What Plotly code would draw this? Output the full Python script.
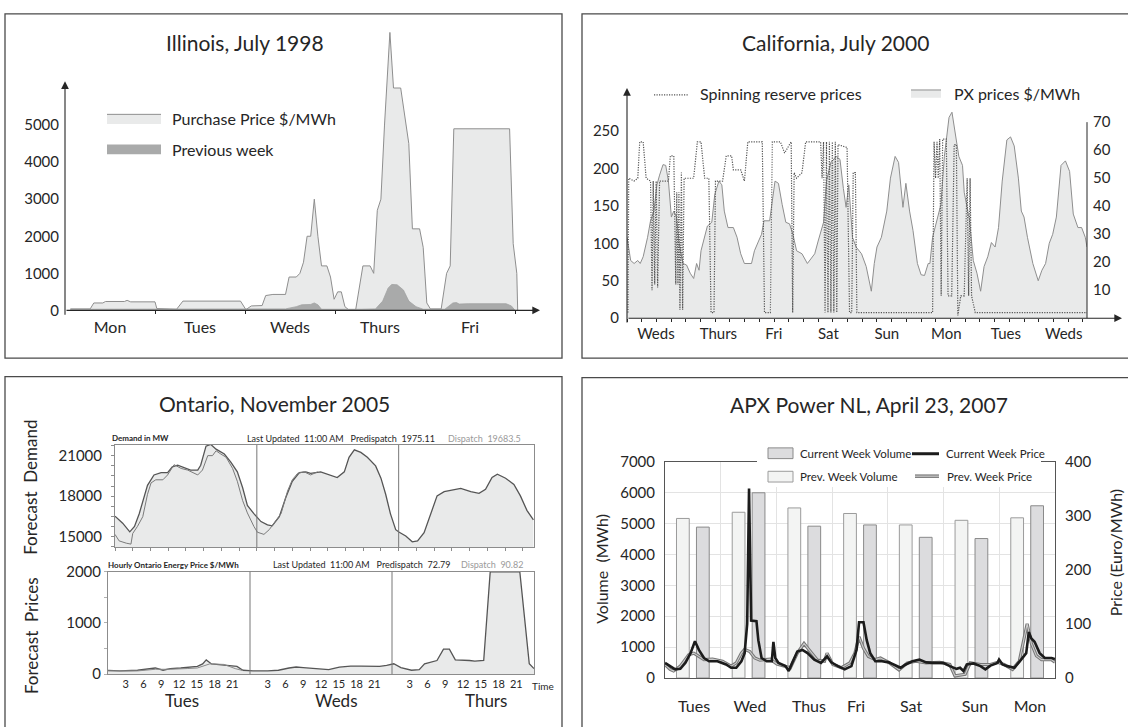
import plotly.graph_objects as go

W, H = 1128, 727
def PX(v): return v / W
def PY(v): return 1 - v / H

FONT = "Lato, 'Noto Sans', sans-serif"
INK = "#262626"
FILL = "#e9eaea"
EDGE = "#8e8e8e"
BOX = "#4a4a4a"

# ---------------- Illinois, July 1998 (x in days from Monday 0:00) ----------------
ill_days = ["Mon", "Tues", "Weds", "Thurs", "Fri"]
ill_yticks = [0, 1000, 2000, 3000, 4000, 5000]
ill_x = [0.06, 0.28, 0.32, 0.42, 0.45, 0.66, 0.69, 0.73, 1.00, 1.02,
         1.24, 1.31, 1.95, 2.01, 2.07, 2.19, 2.23, 2.31, 2.45, 2.49,
         2.57, 2.61, 2.65, 2.69, 2.73, 2.77, 2.81, 2.85, 2.91, 2.95,
         2.99, 3.03, 3.07, 3.11, 3.15, 3.23, 3.31, 3.39, 3.43, 3.47,
         3.51, 3.55, 3.61, 3.65, 3.73, 3.82, 3.86, 3.94, 3.98, 4.02,
         4.06, 4.18, 4.24, 4.28, 4.32, 4.94, 4.98, 5.02, 5.03]
ill_price = [40, 40, 200, 200, 240, 240, 270, 230, 230, 50,
             30, 250, 250, 20, 120, 130, 400, 430, 430, 900,
             900, 1000, 1300, 2000, 2000, 3000, 2000, 1200, 1200, 900,
             300, 500, 500, 100, 20, 20, 1200, 1200, 1000, 2700,
             3000, 5000, 7500, 6000, 6000, 4500, 2200, 2200, 1700, 200,
             40, 40, 1000, 1200, 4900, 4900, 1800, 1000, 0]
ill_prev_x = [0.06, 2.01, 2.45, 2.57, 2.63, 2.73, 2.77, 2.81, 2.85, 3.29,
              3.45, 3.53, 3.59, 3.63, 3.69, 3.76, 3.82, 3.90, 3.98, 4.22,
              4.31, 4.35, 4.38, 4.48, 4.90, 4.96, 5.00]
ill_prev = [30, 30, 40, 100, 150, 160, 200, 150, 30, 30,
            40, 250, 600, 700, 690, 550, 250, 100, 30, 30,
            200, 210, 170, 180, 180, 120, 0]

# ---------------- California, July 2000 (x in hours) ----------------
cal_days = ["Weds", "Thurs", "Fri", "Sat", "Sun", "Mon", "Tues", "Weds"]
cal_day_pos = [11.8, 37.3, 59.9, 82.2, 106.0, 130.3, 154.6, 178.2]
cal_left_ticks = [0, 50, 100, 150, 200, 250]
cal_right_ticks = [10, 20, 30, 40, 50, 60, 70]
cal_px_h = [0.0, 1.5, 2.9, 4.4, 5.4, 6.6, 8.4, 9.6, 11.0, 12.2,
            13.3, 14.7, 15.8, 16.9, 18.1, 19.1, 20.2, 21.3, 22.8, 24.3,
            25.8, 27.2, 28.4, 29.4, 30.2, 31.7, 32.8, 34.6, 35.8, 37.5,
            38.7, 39.7, 41.2, 43.4, 44.9, 46.4, 47.9, 50.8, 52.0, 53.7,
            54.9, 55.9, 58.2, 60.4, 61.8, 63.3, 64.8, 66.3, 67.7, 69.2,
            71.4, 73.6, 75.1, 76.6, 78.0, 80.2, 81.4, 83.2, 85.4, 86.9,
            88.3, 89.4, 90.5, 92.0, 93.5, 95.7, 97.6, 99.7, 100.9, 102.0,
            103.8, 106.0, 107.5, 109.4, 110.8, 112.6, 113.8, 115.3, 116.7, 118.5,
            120.0, 121.4, 122.9, 123.6, 124.7, 126.2, 128.1, 129.5, 131.4, 132.6,
            134.0, 135.4, 136.9, 137.6, 139.8, 141.3, 142.8, 144.3, 145.7, 147.2,
            148.7, 150.2, 151.6, 153.1, 155.0, 156.5, 158.0, 159.7, 160.9, 162.0,
            163.4, 165.6, 167.8, 169.3, 170.8, 172.3, 173.7, 175.2, 177.1, 178.9,
            180.6, 182.1, 184.0, 185.5, 187.0, 187.7]
cal_px = [108, 77, 73, 77, 73, 82, 108, 130, 143, 178,
          191, 205, 204, 183, 135, 143, 135, 100, 73, 71,
          60, 53, 73, 64, 90, 108, 123, 128, 165, 183,
          178, 143, 121, 121, 108, 86, 73, 73, 90, 103,
          112, 130, 130, 183, 180, 152, 128, 126, 112, 90,
          86, 73, 80, 86, 103, 128, 183, 208, 216, 212,
          173, 148, 178, 108, 95, 86, 69, 36, 73, 95,
          108, 143, 187, 216, 208, 148, 180, 143, 117, 73,
          58, 57, 73, 73, 108, 126, 152, 216, 268, 275,
          246, 216, 204, 168, 130, 77, 60, 36, 69, 82,
          101, 95, 121, 183, 238, 242, 230, 187, 143, 135,
          108, 73, 50, 64, 73, 100, 112, 135, 204, 210,
          196, 139, 121, 121, 108, 95]
cal_sr_h = [0.4, 0.7, 2.9, 4.4, 5.2, 6.6, 7.8, 9.6, 10.2, 10.7,
            11.3, 11.9, 12.5, 13.3, 16.9, 17.7, 19.1, 19.9, 20.3, 20.8,
            21.2, 21.6, 22.2, 22.7, 23.3, 27.2, 28.7, 30.2, 31.7, 33.4,
            34.3, 35.5, 36.1, 39.0, 40.5, 42.7, 43.4, 46.4, 47.9, 49.3,
            55.2, 56.1, 58.5, 59.3, 62.6, 64.3, 66.3, 67.0, 67.6, 68.2,
            69.2, 71.4, 72.9, 79.0, 79.6, 80.2, 80.8, 81.4, 82.0, 82.6,
            83.2, 83.8, 84.4, 85.0, 85.6, 86.1, 89.8, 90.8, 91.7, 92.3,
            93.2, 93.8, 124.7, 125.3, 125.9, 126.5, 127.0, 127.6, 128.2, 128.8,
            130.3, 131.0, 132.5, 133.5, 134.4, 135.0, 136.2, 137.6, 138.8, 139.4,
            140.0, 140.6, 142.1, 187.7]
cal_sr = [2, 50, 49, 50, 63, 63, 50, 49, 10, 49,
          12, 49, 11, 49, 49, 58, 58, 12, 45, 12,
          45, 3, 52, 3, 50, 50, 63, 63, 50, 50,
          2, 2, 49, 49, 58, 58, 53, 53, 49, 63,
          63, 2, 2, 63, 63, 59, 62, 63, 2, 52,
          50, 52, 63, 63, 50, 63, 2, 63, 2, 63,
          2, 63, 2, 63, 2, 62, 61, 2, 2, 52,
          52, 2, 2, 63, 50, 63, 50, 64, 8, 64,
          64, 8, 8, 62, 62, 1, 8, 8, 50, 8,
          50, 8, 2, 2]

# ---------------- Ontario, November 2005 (x in hours from Tuesday 0:00) ----------------
ont_days = ["Tues", "Weds", "Thurs"]
ont_hours = [3, 6, 9, 12, 15, 18, 21]
ont_dem_ticks = [15000, 18000, 21000]
ont_price_ticks = [0, 1000, 2000]
ont_dem_h = [0.0, 1.3, 2.5, 3.3, 4.1, 5.0, 5.5, 6.6, 7.8, 8.9,
             9.7, 10.6, 11.7, 12.8, 14.0, 14.5, 15.4, 16.2, 17.1, 18.5,
             19.6, 20.7, 21.6, 22.4, 23.5, 24.7, 25.8, 26.6, 27.8, 28.9,
             30.0, 31.2, 32.3, 33.1, 34.8, 36.2, 37.6, 38.8, 39.6, 40.5,
             41.6, 42.7, 44.1, 45.0, 45.8, 46.6, 47.5, 48.1, 49.2, 50.3,
             51.2, 52.3, 53.4, 54.5, 55.7, 57.4, 58.5, 60.2, 61.6, 62.7,
             63.8, 64.7, 66.1, 67.5, 68.6, 69.7, 70.8]
ont_dem = [16520, 16000, 15360, 15760, 16700, 18140, 18800, 19570, 19740, 19740,
           20170, 20290, 20100, 19930, 19930, 20290, 21700, 21830, 21480, 21120,
           20520, 19800, 18620, 17310, 16710, 16120, 15880, 15800, 16480, 17900,
           19100, 19740, 19800, 19690, 19800, 19570, 19380, 19800, 20880, 21430,
           21240, 20880, 20240, 19330, 18140, 16710, 15520, 15330, 15050, 14620,
           14690, 15290, 16600, 18020, 18330, 18500, 18570, 18330, 18210, 18500,
           19380, 19620, 19330, 18860, 18020, 16950, 16240]
ont_act_h = [0.0, 0.7, 1.9, 2.7, 3.0, 3.8, 4.7, 5.5, 6.1, 6.9,
             8.1, 8.9, 10.0, 11.2, 12.3, 14.0, 14.8, 15.7, 16.5, 17.1,
             17.9, 18.8, 19.9, 20.7, 21.6, 22.4, 23.5, 24.1, 25.2, 26.1,
             26.9, 28.1, 29.2, 30.0, 30.9, 32.0, 33.1, 34.3]
ont_act = [15170, 14690, 14520, 14450, 15240, 15760, 16480, 18140, 18980, 19210,
           19210, 19570, 20330, 20050, 19930, 19570, 19930, 21000, 21000, 21360,
           21120, 20880, 20050, 19100, 17670, 16760, 15760, 15330, 15170, 15520,
           16000, 16710, 18380, 19210, 19690, 19800, 19570, 19800]
ont_price_h = [0.0, 2.0, 5.0, 6.8, 8.0, 9.3, 10.5, 12.3, 13.5, 15.1,
               16.0, 16.6, 17.5, 18.4, 20.2, 21.8, 22.8, 24.5, 27.0, 28.8,
               30.6, 31.8, 33.0, 34.9, 37.3, 39.1, 41.0, 42.8, 45.9, 47.1,
               48.3, 49.5, 51.3, 52.6, 53.5, 55.6, 56.7, 57.7, 58.7, 61.1,
               62.0, 63.5, 64.6, 69.6, 71.2, 72.0]
ont_price = [75, 63, 76, 108, 120, 76, 108, 120, 139, 152,
             200, 278, 200, 190, 184, 152, 76, 63, 63, 76,
             120, 139, 127, 108, 89, 139, 158, 158, 152, 171,
             203, 127, 76, 89, 203, 266, 487, 487, 278, 266,
             253, 266, 2000, 2000, 203, 108]
ont_disp_h = [0.0, 5.0, 8.0, 10.5, 13.5, 15.1, 17.2, 19.6, 21.5, 22.8]
ont_disp = [63, 63, 95, 95, 110, 120, 200, 190, 108, 70]

# ---------------- APX Power NL, April 23, 2007 (x in hours from Tuesday 0:00) ----------------
apx_days = ["Tues", "Wed", "Thus", "Fri", "Sat", "Sun", "Mon"]
apx_day_pos = [12.5, 36.6, 62.0, 82.3, 106.0, 133.5, 157.2]
apx_prev_vol = [5160, 5360, 5500, 5320, 4950, 5100, 5180]
apx_cur_vol = [4880, 5990, 4910, 4950, 4550, 4510, 5570]
apx_cur_h = [0.0, 2.2, 4.4, 6.6, 8.8, 11.0, 12.9, 14.6, 16.8, 19.0,
             22.6, 26.3, 28.5, 30.7, 32.9, 34.3, 35.4, 36.2, 37.1, 39.4,
             40.2, 41.6, 43.8, 46.0, 46.7, 47.5, 48.9, 51.9, 53.3, 54.8,
             57.0, 59.2, 61.4, 64.3, 67.2, 69.8, 71.6, 74.5, 77.4, 80.3,
             82.5, 83.6, 85.5, 86.9, 88.4, 90.6, 93.5, 96.4, 99.3, 101.5,
             103.7, 106.6, 109.6, 112.5, 115.4, 119.8, 122.7, 125.6, 127.1, 128.6,
             130.0, 132.9, 135.9, 138.0, 140.2, 143.2, 143.9, 145.4, 147.5, 150.5,
             153.4, 155.6, 156.7, 157.8, 159.2, 161.4, 163.6, 166.5, 168.0]
apx_cur = [28, 22, 16, 17, 28, 46, 68, 52, 37, 31,
           31, 25, 19, 19, 31, 46, 100, 350, 106, 105,
           70, 37, 31, 31, 67, 37, 28, 22, 13, 28,
           49, 52, 46, 34, 28, 40, 29, 22, 16, 22,
           52, 103, 103, 70, 46, 31, 31, 29, 23, 19,
           25, 31, 34, 29, 28, 28, 22, 17, 19, 13,
           25, 27, 22, 16, 23, 28, 34, 25, 22, 19,
           34, 46, 85, 73, 67, 46, 37, 37, 35]
apx_prev_h = [0.0, 2.2, 3.7, 6.6, 10.2, 12.4, 14.6, 16.8, 20.5, 24.8,
              28.5, 30.7, 32.9, 34.3, 36.5, 38.7, 40.9, 45.3, 48.2, 51.9,
              54.0, 57.0, 59.9, 62.1, 65.7, 68.7, 69.8, 72.3, 76.0, 79.6,
              81.8, 83.6, 85.5, 87.6, 90.6, 92.8, 96.4, 100.8, 104.4, 108.1,
              112.5, 118.3, 122.7, 124.9, 127.1, 129.3, 131.5, 135.9, 140.2, 143.2,
              146.1, 149.7, 152.6, 156.0, 157.8, 160.0, 162.2, 166.5, 168.0]
apx_prev = [25, 16, 13, 22, 43, 46, 40, 34, 35, 31,
            22, 28, 46, 53, 49, 37, 33, 35, 26, 22,
            19, 46, 64, 52, 33, 31, 46, 25, 19, 28,
            46, 76, 55, 40, 34, 37, 29, 15, 28, 31,
            28, 29, 25, 4, 5, 7, 28, 25, 25, 29,
            25, 16, 31, 100, 64, 41, 34, 34, 29]
apx_vol_ticks = [0, 1000, 2000, 3000, 4000, 5000, 6000, 7000]
apx_price_ticks = [0, 100, 200, 300, 400]

fig = go.Figure()

# Illinois
fig.add_trace(go.Scatter(x=ill_x, y=ill_price, xaxis="x", yaxis="y", mode="lines",
                         line=dict(color=EDGE, width=1), fill="tozeroy", fillcolor=FILL))
fig.add_trace(go.Scatter(x=ill_prev_x, y=ill_prev, xaxis="x", yaxis="y", mode="lines",
                         line=dict(color="#a2a3a3", width=0.8), fill="tozeroy", fillcolor="#a9aaaa"))
# California
fig.add_trace(go.Scatter(x=cal_px_h, y=cal_px, xaxis="x2", yaxis="y2", mode="lines",
                         line=dict(color=EDGE, width=1), fill="tozeroy", fillcolor=FILL))
fig.add_trace(go.Scatter(x=cal_sr_h, y=cal_sr, xaxis="x2", yaxis="y3", mode="lines",
                         line=dict(color="#555555", width=1.2, dash="1.2px,1.3px")))
# Ontario
fig.add_trace(go.Scatter(x=ont_dem_h, y=ont_dem, xaxis="x3", yaxis="y4", mode="lines",
                         line=dict(color="#555555", width=1.3), fill="tozeroy", fillcolor=FILL))
fig.add_trace(go.Scatter(x=ont_act_h, y=ont_act, xaxis="x3", yaxis="y4", mode="lines",
                         line=dict(color="#7a7a7a", width=1)))
fig.add_trace(go.Scatter(x=ont_price_h, y=ont_price, xaxis="x4", yaxis="y5", mode="lines",
                         line=dict(color="#555555", width=1.3), fill="tozeroy", fillcolor=FILL))
fig.add_trace(go.Scatter(x=ont_disp_h, y=ont_disp, xaxis="x4", yaxis="y5", mode="lines",
                         line=dict(color="#8a8a8a", width=1)))
# APX
fig.add_trace(go.Bar(x=[24 * k + 7.7 for k in range(len(apx_prev_vol))], y=apx_prev_vol, width=5.5,
                     xaxis="x5", yaxis="y6",
                     marker=dict(color="#f3f4f3", line=dict(color="#9b9b9b", width=1))))
fig.add_trace(go.Bar(x=[24 * k + 16.3 for k in range(len(apx_cur_vol))], y=apx_cur_vol, width=5.5,
                     xaxis="x5", yaxis="y6",
                     marker=dict(color="#dcdcde", line=dict(color="#8a8a8a", width=1))))
fig.add_trace(go.Scatter(x=apx_prev_h, y=apx_prev, xaxis="x5", yaxis="y7", mode="lines",
                         line=dict(color="#777777", width=3.2)))
fig.add_trace(go.Scatter(x=apx_prev_h, y=apx_prev, xaxis="x5", yaxis="y7", mode="lines",
                         line=dict(color="#cccccc", width=1.1)))
fig.add_trace(go.Scatter(x=apx_cur_h, y=apx_cur, xaxis="x5", yaxis="y7", mode="lines",
                         line=dict(color="#1c1c1c", width=2.6)))

def tf(size=15, color=INK):
    return dict(family=FONT, size=size, color=color)

base = dict(showgrid=False, zeroline=False, showline=False, ticks="", tickfont=tf())

def txt(x, y, s, size=15, xanchor="center", color=INK, angle=0):
    return dict(x=PX(x), y=PY(y), xref="paper", yref="paper", text=s, showarrow=False,
                xanchor=xanchor, yanchor="middle", textangle=angle, font=tf(size, color))

def arrow(x0, y0, x1, y1):
    return dict(x=PX(x1), y=PY(y1), xref="paper", yref="paper", ax=x0 - x1, ay=y0 - y1,
                axref="pixel", ayref="pixel", text="", showarrow=True, arrowhead=2,
                arrowsize=1.4, arrowwidth=1.1, arrowcolor=INK)

def rect(x0, y0, x1, y1, fill="rgba(0,0,0,0)", line=BOX, width=1.3, layer="above"):
    return dict(type="rect", xref="paper", yref="paper", x0=PX(x0), x1=PX(x1), y0=PY(y0), y1=PY(y1),
                fillcolor=fill, line=dict(color=line, width=width), layer=layer)

def seg(x0, y0, x1, y1, color=INK, width=1, dash="solid"):
    return dict(type="line", xref="paper", yref="paper", x0=PX(x0), x1=PX(x1), y0=PY(y0), y1=PY(y1),
                line=dict(color=color, width=width, dash=dash), layer="above")

layout = dict(
    width=W, height=H, margin=dict(l=0, r=0, t=0, b=0),
    paper_bgcolor="white", plot_bgcolor="rgba(0,0,0,0)", showlegend=False,
    barmode="overlay", font=tf(),
    # Illinois
    xaxis=dict(base, domain=[PX(65), PX(540)], range=[0, 475 / 90], anchor="y",
               tickvals=[i + 0.5 for i in range(len(ill_days))], ticktext=ill_days,
               tickfont=tf(16), ticklabelstandoff=6,
               minor=dict(tickvals=[1, 2, 3, 4, 5], ticks="outside", ticklen=3, tickcolor=INK)),
    yaxis=dict(base, domain=[PY(308), PY(20)], range=[0, 288 / 0.038], anchor="x",
               tickvals=ill_yticks, ticklabelstandoff=5),
    # California
    xaxis2=dict(base, domain=[PX(627), PX(1087)], range=[0, 187.7], anchor="y2",
                tickvals=cal_day_pos, ticktext=cal_days, ticklabelstandoff=5,
                minor=dict(tickmode="linear", tick0=0, dtick=6, ticks="outside", ticklen=3, tickcolor=INK)),
    yaxis2=dict(base, domain=[PY(316), PY(80)], range=[0, 236 / 0.768], anchor="x2",
                tickvals=cal_left_ticks, ticklabelstandoff=7),
    yaxis3=dict(base, overlaying="y2", side="right", anchor="x2", range=[0, 236 / 2.87],
                tickvals=cal_right_ticks, ticklabelstandoff=5),
    # Ontario demand
    xaxis3=dict(base, domain=[PX(115), PX(534)], range=[0, 70.9], anchor="y4",
                showline=True, mirror=True, linecolor="#8c8c8c", linewidth=1,
                ticks="outside", ticklen=3, tickcolor="#8c8c8c", tickmode="linear", tick0=0, dtick=3,
                showticklabels=False),
    yaxis4=dict(base, domain=[PY(551), PY(446)], range=[14210, 21790], anchor="x3",
                showline=True, mirror=True, linecolor="#8c8c8c", linewidth=1,
                tickvals=ont_dem_ticks, tickformat="d", ticks="outside", ticklen=3, tickcolor="#8c8c8c",
                ticklabelstandoff=6,
                minor=dict(tickmode="linear", tick0=14250, dtick=750, ticks="outside", ticklen=3,
                           tickcolor="#8c8c8c")),
    # Ontario price
    xaxis4=dict(base, domain=[PX(108), PX(534)], range=[0, 72], anchor="y5",
                showline=True, mirror=True, linecolor="#8c8c8c", linewidth=1,
                tickvals=[24 * d + h for d in range(len(ont_days)) for h in ont_hours],
                ticktext=[str(h) for d in range(len(ont_days)) for h in ont_hours],
                tickfont=tf(11)),
    yaxis5=dict(base, domain=[PY(681), PY(576)], range=[0, 2000], anchor="x4",
                showline=True, mirror=True, linecolor="#8c8c8c", linewidth=1,
                tickvals=ont_price_ticks, tickformat="d", ticklabelstandoff=3,
                minor=dict(tickmode="linear", tick0=0, dtick=500, ticks="outside", ticklen=3,
                           tickcolor="#b0b0b0")),
    # APX
    xaxis5=dict(base, domain=[PX(665), PX(1055)], range=[0, 168], anchor="y6",
                showline=True, mirror=True, linecolor="#555555", linewidth=1,
                tickvals=apx_day_pos, ticktext=apx_days, tickfont=tf(16), ticklabelstandoff=14,
                minor=dict(tickvals=[24, 48, 72, 96, 120, 144], showgrid=True, gridcolor="#e3e3e3",
                           gridwidth=1, ticks="")),
    yaxis6=dict(base, domain=[PY(685), PY(463)], range=[0, 7000], anchor="x5",
                showline=True, mirror=True, linecolor="#555555", linewidth=1,
                tickvals=apx_vol_ticks, showgrid=True, gridcolor="#e3e3e3", ticklabelstandoff=6),
    yaxis7=dict(base, overlaying="y6", side="right", anchor="x5", range=[0, 400],
                tickvals=apx_price_ticks, ticklabelstandoff=9),
)

shapes = [
    # panel frames (right and bottom frames run off the picture, as in the original)
    rect(5, 4, 562, 357), rect(582, 4, 1140, 357), rect(5, 376, 562, 740), rect(582, 377, 1140, 740),
    # Illinois legend
    rect(107, 107, 161, 117, fill=FILL, line=FILL, width=0),
    seg(107, 107, 161, 107, color=EDGE),
    rect(107, 138, 161, 148, fill="#a9aaaa", line="#a9aaaa", width=0),
    # California right axis + legend
    seg(1087, 115, 1087, 316),
    seg(654, 87, 689, 87, color="#555555", width=1.2, dash="1.2px,1.3px"),
    rect(911, 82, 941, 90, fill=FILL, line=FILL, width=0),
    seg(911, 82, 941, 82, color=EDGE),
    # Ontario day dividers
    dict(type="line", xref="x3", yref="y4 domain", x0=24, x1=24, y0=0, y1=1, line=dict(color="#777", width=1)),
    dict(type="line", xref="x3", yref="y4 domain", x0=48, x1=48, y0=0, y1=1, line=dict(color="#777", width=1)),
    dict(type="line", xref="x4", yref="y5 domain", x0=24, x1=24, y0=0, y1=1, line=dict(color="#777", width=1)),
    dict(type="line", xref="x4", yref="y5 domain", x0=48, x1=48, y0=0, y1=1, line=dict(color="#777", width=1)),
    # APX legend
    rect(757, 441, 1041, 489, fill="white", line="white", width=0),
    rect(768, 449, 793, 460, fill="#dcdcde", line="#8a8a8a", width=1),
    seg(912, 455, 939, 455, color="#1c1c1c", width=3),
    rect(768, 473, 793, 484, fill="#f3f4f3", line="#9b9b9b", width=1),
    seg(915, 478, 939, 478, color="#777777", width=3.5),
    seg(915, 478, 939, 478, color="#cccccc", width=1.2),
]

annotations = [
    # Illinois
    txt(245, 33, "Illinois, July 1998", 21),
    arrow(65, 308, 65, 73), arrow(65, 308, 540, 308),
    txt(170, 111, "Purchase Price $/MWh", 16, "left"),
    txt(170, 143, "Previous week", 16, "left"),
    # California
    txt(835, 33, "California, July 2000", 21),
    arrow(627, 316, 627, 80), arrow(627, 316, 1122, 316),
    txt(698, 86, "Spinning reserve prices", 16, "left"),
    txt(952, 86, "PX prices $/MWh", 16, "left"),
    # Ontario
    txt(274, 403, "Ontario, November 2005", 21),
    txt(31, 490, "Forecast  Demand", 17, angle=-90),
    txt(31, 642, "Forecast  Prices", 17, angle=-90),
    txt(110, 439, "<b>Demand in MW</b>", 8, "left"),
    txt(245, 439, "Last Updated  11:00 AM   Predispatch  1975.11", 9, "left"),
    txt(446, 439, "Dispatch  19683.5", 9, "left", color="#9a9a9a"),
    txt(106, 569, "<b>Hourly Ontario Energy Price $/MWh</b>", 8, "left"),
    txt(271, 569, "Last Updated  11:00 AM   Predispatch  72.79", 9, "left"),
    txt(459, 569, "Dispatch  90.82", 9, "left", color="#9a9a9a"),
    txt(543, 693, "Time", 10),
    txt(182, 708, ont_days[0], 17), txt(336, 708, ont_days[1], 17), txt(486, 708, ont_days[2], 17),
    # APX
    txt(869, 405, "APX Power NL, April 23, 2007", 21),
    txt(602, 573, "Volume  (MWh)", 16, angle=-90),
    txt(1115, 557, "Price (Euro/MWh)", 16, angle=-90),
    txt(798, 455, "Current Week Volume", 11.5, "left"),
    txt(944, 455, "Current Week Price", 11.5, "left"),
    txt(798, 478, "Prev. Week Volume", 11.5, "left"),
    txt(945, 478, "Prev. Week Price", 11.5, "left"),
]

layout["shapes"] = shapes
layout["annotations"] = annotations
fig.update_layout(**layout)
fig.write_html("out.html", config={"displayModeBar": False},
               post_script="document.body.style.margin='0';document.body.style.overflow='hidden';")
